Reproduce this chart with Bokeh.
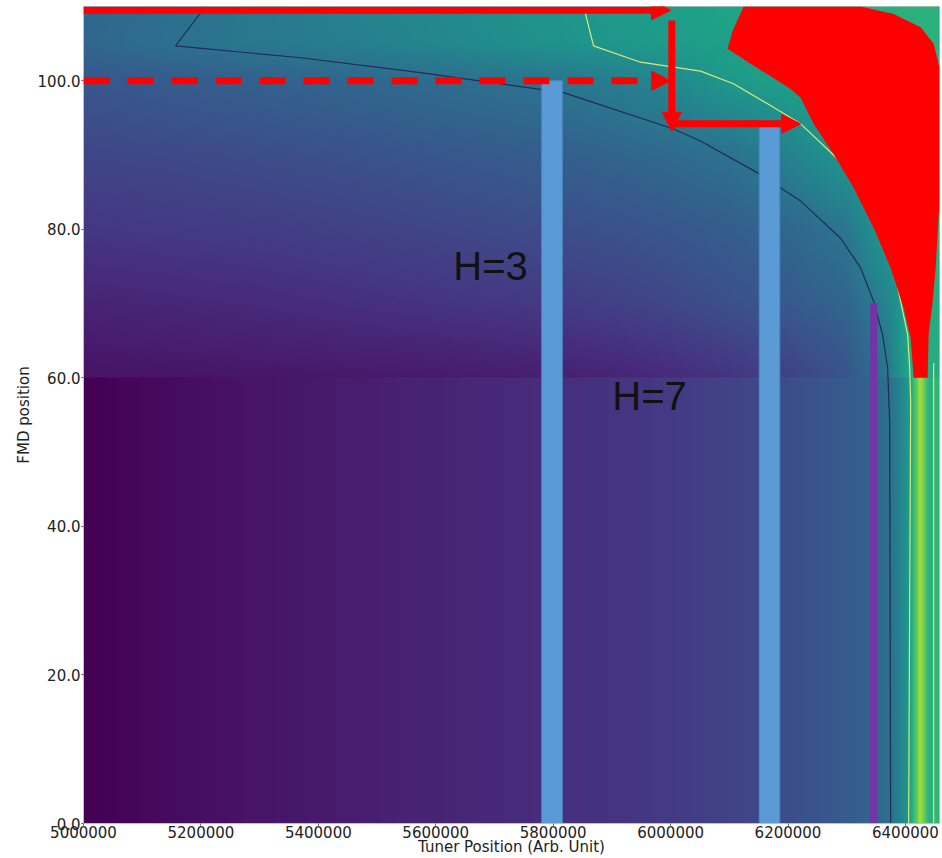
import numpy as np
from bokeh.plotting import figure
from bokeh.models import (Range1d, LinearColorMapper, FixedTicker, PrintfTickFormatter,
                          Arrow, NormalHead, ColumnDataSource)
from bokeh.palettes import Viridis256
from bokeh.core.properties import value
from bokeh.embed import file_html
from bokeh.resources import INLINE

# ---------------- data ----------------
X_MIN, X_MAX = 5000000, 6458000
Y_MIN, Y_MAX = 0, 110

x_ticks = [5000000, 5200000, 5400000, 5600000, 5800000, 6000000, 6200000, 6400000]
y_ticks = [0, 20, 40, 60, 80, 100]

# field level (0..1 on viridis) below FMD position 60, by tuner position
lower_x = [5000000, 5100000, 5200000, 5300000, 5400000, 5500000, 5600000, 5700000,
           5800000, 5900000, 6000000, 6100000, 6200000, 6250000, 6300000, 6340000,
           6375000, 6395000, 6408000, 6418000, 6426000, 6434000, 6442000, 6458000]
lower_level = [0.0, 0.02, 0.04, 0.055, 0.07, 0.085, 0.10, 0.115,
               0.13, 0.15, 0.17, 0.20, 0.235, 0.26, 0.29, 0.32,
               0.37, 0.46, 0.56, 0.72, 0.88, 0.74, 0.64, 0.66]

# field level above FMD position 60: one row per FMD position
upper_x = [5000000, 5150000, 5300000, 5450000, 5600000, 5750000, 5900000,
           6000000, 6100000, 6200000, 6300000, 6370000, 6410000, 6458000]
upper_row_y = [60, 70, 80, 90, 100, 105, 110]
upper_level_y60 = [0.05, 0.055, 0.06, 0.065, 0.07, 0.08, 0.10, 0.12, 0.15, 0.19, 0.26, 0.39, 0.62, 0.62]
upper_level_y70 = [0.10, 0.11, 0.12, 0.135, 0.15, 0.165, 0.19, 0.215, 0.245, 0.28, 0.325, 0.45, 0.60, 0.62]
upper_level_y80 = [0.16, 0.17, 0.18, 0.195, 0.21, 0.23, 0.25, 0.27, 0.295, 0.33, 0.39, 0.56, 0.60, 0.63]
upper_level_y90 = [0.21, 0.22, 0.235, 0.25, 0.27, 0.29, 0.32, 0.345, 0.375, 0.44, 0.54, 0.60, 0.62, 0.64]
upper_level_y100 = [0.27, 0.29, 0.31, 0.33, 0.355, 0.38, 0.42, 0.47, 0.54, 0.57, 0.60, 0.62, 0.63, 0.64]
upper_level_y105 = [0.33, 0.37, 0.40, 0.43, 0.46, 0.50, 0.53, 0.55, 0.57, 0.59, 0.61, 0.62, 0.63, 0.64]
upper_level_y110 = [0.33, 0.36, 0.40, 0.44, 0.47, 0.51, 0.54, 0.56, 0.58, 0.60, 0.62, 0.63, 0.64, 0.64]

# contour lines
dark_contour_x = [5207800, 5156700, 5369700, 5574100, 5817700, 6005100, 6051000, 6148200,
                  6221500, 6289600, 6323700, 6345800, 6361100, 6369700, 6373100, 6374800]
dark_contour_y = [110.0, 104.7, 103.1, 101.1, 98.4, 93.5, 91.9, 87.6,
                  83.8, 78.8, 74.8, 70.3, 65.8, 61.3, 54.1, 0.0]
light_contour_x = [5851800, 5868800, 5948900, 6051000, 6107200, 6165200, 6221500, 6289600,
                   6328800, 6357800, 6379900, 6391800, 6403800, 6407200, 6408900, 6407200, 6405500]
light_contour_y = [110.0, 104.7, 102.5, 101.3, 99.6, 96.9, 94.2, 89.1,
                   84.7, 80.2, 74.8, 70.3, 65.8, 61.3, 56.8, 29.8, 0.0]
light_contour2_x = [6448100, 6448100]
light_contour2_y = [0.0, 62.0]
light_contour3_x = [6460000, 6448100, 6460000]
light_contour3_y = [100.3, 99.0, 97.7]

# region shown in red
red_x = [6124400, 6105600, 6097100, 6136300, 6204400, 6221500, 6243600, 6277700, 6311800,
         6345800, 6374800, 6397000, 6408900, 6414000, 6437800, 6439500, 6446300, 6451400,
         6454800, 6458000, 6458000, 6448100, 6425900, 6379900, 6323700]
red_y = [110.0, 106.7, 104.3, 102.3, 98.9, 97.7, 94.2, 90.1, 85.6,
         80.2, 74.8, 69.4, 65.3, 60.0, 60.0, 65.9, 70.3, 74.8,
         79.4, 83.8, 101.8, 105.0, 107.2, 109.0, 110.0]

# vertical bars
bar_x = [5798000, 6168500]
bar_top = [100.0, 93.8]
purple_x = [6346000]
purple_top = [70.0]

# arrows
solid_arrow_x0 = [5000000, 6002000, 6000000]
solid_arrow_y0 = [109.5, 108.1, 94.2]
solid_arrow_x1 = [6000000, 6002000, 6221500]
solid_arrow_y1 = [109.5, 93.2, 94.2]
dashed_arrow_x0 = [5000000]
dashed_arrow_y0 = [100.0]
dashed_arrow_x1 = [6000000]
dashed_arrow_y1 = [100.0]

# labels
label_x = [5693400, 5964200]
label_y = [75.0, 57.6]
label_text = ["H=3", "H=7"]

# ---------------- build field image ----------------
nx, ny = 730, 440
xs = np.linspace(X_MIN, X_MAX, nx)
ys = (np.arange(ny) + 0.5) * (Y_MAX / ny)
lower_profile = np.interp(xs, lower_x, lower_level)
upper_rows = np.array([np.interp(xs, upper_x, r) for r in
                       (upper_level_y60, upper_level_y70, upper_level_y80, upper_level_y90,
                        upper_level_y100, upper_level_y105, upper_level_y110)])
uy = np.array(upper_row_y, dtype=float)
field = np.empty((ny, nx))
for j, yv in enumerate(ys):
    if yv < 60:
        field[j] = lower_profile
    else:
        k = int(np.searchsorted(uy, yv)) - 1
        k = min(max(k, 0), len(uy) - 2)
        t = (yv - uy[k]) / (uy[k + 1] - uy[k])
        field[j] = (1 - t) * upper_rows[k] + t * upper_rows[k + 1]

# ---------------- figure ----------------
p = figure(width=942, height=858, x_range=Range1d(X_MIN, X_MAX), y_range=Range1d(Y_MIN, Y_MAX),
           output_backend="svg", toolbar_location=None,
           min_border_left=83, min_border_right=3, min_border_top=6, min_border_bottom=30)
p.background_fill_color = "white"
p.border_fill_color = "white"
p.grid.visible = False
p.outline_line_color = "#c0c0c0"

mapper = LinearColorMapper(palette=Viridis256, low=0.0, high=1.0)
p.image(image=[field], x=X_MIN, y=Y_MIN, dw=X_MAX - X_MIN, dh=Y_MAX - Y_MIN, color_mapper=mapper)

p.line(dark_contour_x, dark_contour_y, line_color="#222b5a", line_width=1.2)
p.line(light_contour_x, light_contour_y, line_color="#d9e879", line_width=1.2)
p.line(light_contour2_x, light_contour2_y, line_color="#d9e879", line_width=1.2)
p.line(light_contour3_x, light_contour3_y, line_color="#f0c890", line_width=1.2)

p.patch(red_x, red_y, fill_color="#ff0000", line_color=None)

p.vbar(x=bar_x, top=bar_top, bottom=0, width=35000, fill_color="#5b9bd5", line_color="#4a88c6", line_width=1)
p.vbar(x=purple_x, top=purple_top, bottom=0, width=12000, fill_color="#7433a6", line_color=None)

p.text(x=label_x, y=label_y, text=label_text, text_font=value("Liberation Sans"),
       text_font_size="40px", text_color="#111111", text_align="center", text_baseline="middle")

solid_src = ColumnDataSource(dict(x0=solid_arrow_x0, y0=solid_arrow_y0, x1=solid_arrow_x1, y1=solid_arrow_y1))
p.add_layout(Arrow(end=NormalHead(size=19, fill_color="#ff0000", line_color="#ff0000", line_width=1),
                   x_start="x0", y_start="y0", x_end="x1", y_end="y1", source=solid_src,
                   line_color="#ff0000", line_width=7))
dashed_src = ColumnDataSource(dict(x0=dashed_arrow_x0, y0=dashed_arrow_y0, x1=dashed_arrow_x1, y1=dashed_arrow_y1))
p.add_layout(Arrow(end=NormalHead(size=19, fill_color="#ff0000", line_color="#ff0000", line_width=1),
                   x_start="x0", y_start="y0", x_end="x1", y_end="y1", source=dashed_src,
                   line_color="#ff0000", line_width=7, line_dash="26 18"))

# axes
p.xaxis.ticker = FixedTicker(ticks=x_ticks)
p.xaxis.formatter = PrintfTickFormatter(format="%d")
p.yaxis.ticker = FixedTicker(ticks=y_ticks)
p.yaxis.formatter = PrintfTickFormatter(format="%.1f")
p.xaxis.axis_label = "Tuner Position (Arb. Unit)"
p.yaxis.axis_label = "FMD position"
for ax in (p.xaxis[0], p.yaxis[0]):
    ax.axis_label_text_font = "DejaVu Sans"
    ax.axis_label_text_font_size = "15px"
    ax.axis_label_text_font_style = "normal"
    ax.axis_label_text_color = "#222222"
    ax.major_label_text_font = "DejaVu Sans"
    ax.major_label_text_font_size = "15px"
    ax.major_label_text_color = "#222222"
    ax.axis_line_color = "#c0c0c0"
    ax.major_tick_line_color = "#555555"
    ax.major_tick_out = 2
    ax.major_tick_in = 0
    ax.minor_tick_line_color = None
p.xaxis[0].major_label_standoff = 0
p.xaxis[0].axis_label_standoff = -3
p.yaxis[0].major_label_standoff = 1
p.yaxis[0].axis_label_standoff = 2

open("out.html", "w").write(file_html(p, INLINE))
